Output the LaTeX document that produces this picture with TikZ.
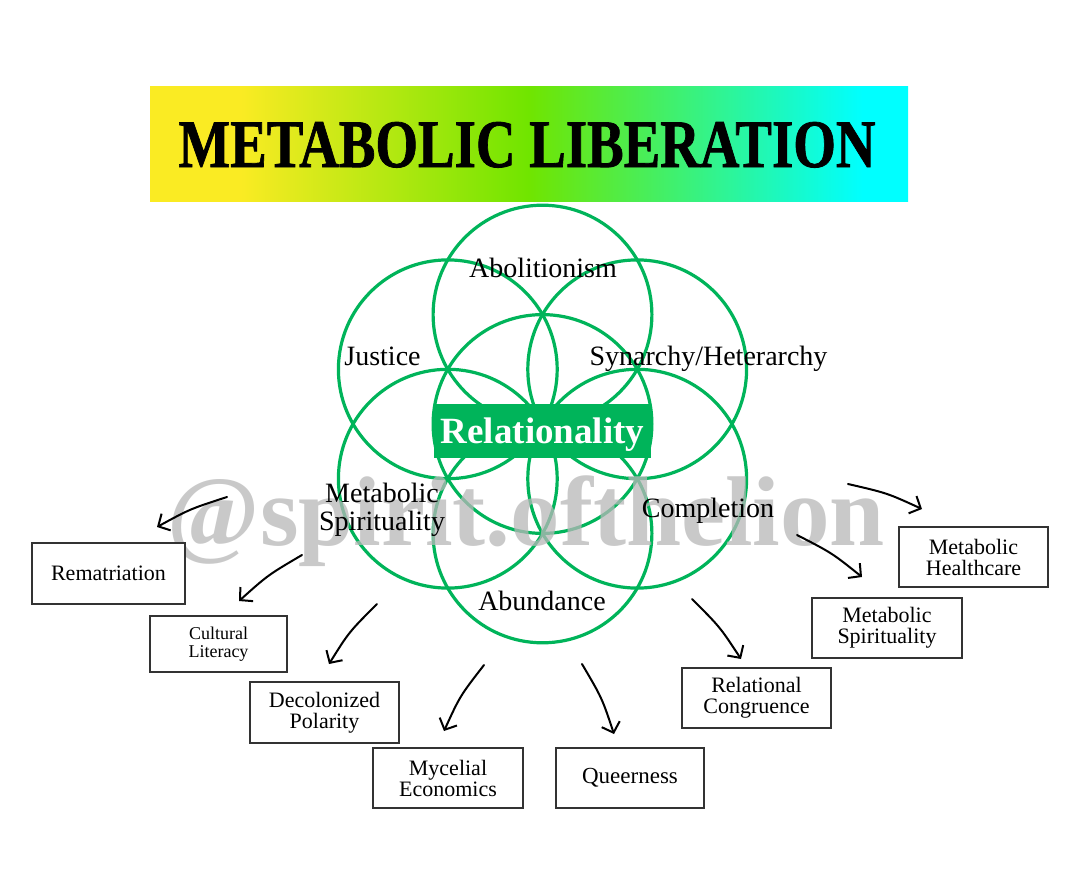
\documentclass[tikz,border=0pt]{standalone}
\usepackage{fontspec}
\setmainfont{Liberation Serif}
\newfontfamily\titlefont[FakeBold=1.2]{Liberation Serif}
\usetikzlibrary{arrows.meta}
\definecolor{petal}{RGB}{0,180,90}
\definecolor{ylw}{RGB}{250,235,35}
\definecolor{lgrn}{RGB}{112,229,0}
\definecolor{cyn}{RGB}{0,255,255}
\definecolor{wmgray}{RGB}{184,184,184}
\pgfdeclarehorizontalshading{titlegrad}{100bp}{color(0bp)=(ylw); color(25bp)=(ylw); color(31bp)=(ylw); color(50bp)=(lgrn); color(72bp)=(cyn); color(75bp)=(cyn); color(100bp)=(cyn)}
\begin{document}
\begin{tikzpicture}[x=1pt,y=-1pt,
  petalc/.style={draw=petal, line width=3.2pt},
  lbl/.style={font=\fontsize{28}{28}\selectfont, text=black, inner sep=0pt},
  boxn/.style={draw=black!80, line width=1.3pt, fill=white, align=center, inner sep=0pt,
    minimum width=149pt, minimum height=60pt, font=\fontsize{22}{21}\selectfont},
  arr/.style={line width=2pt, line cap=round, -{Straight Barb[length=9pt,width=19pt,line width=2pt]}},
]
\useasboundingbox (0,0) rectangle (1080,889);
\fill[white] (0,0) rectangle (1080,889);

% title bar
\shade[shading=titlegrad] (150,86) rectangle (908,201);
\node[anchor=base, inner sep=0pt] (title) at (527,167)
  {\resizebox{697pt}{45pt}{\titlefont\bfseries METABOLIC LIBERATION}};

% seed of life circles
\foreach \cx/\cy in {542.5/424, 542.5/314.6, 447.8/369.3, 637.2/369.3, 447.8/478.7, 637.2/478.7, 542.5/533.4}
  \draw[petalc] (\cx,\cy) circle[radius=109.4pt];

% watermark
\node[anchor=base, inner sep=0pt, text=wmgray, opacity=0.75] (wm) at (526.5,545)
  {\resizebox{717pt}{!}{\fontsize{100}{100}\selectfont\bfseries @spirit.ofthelion}};

% central box
\node[fill=petal, minimum width=217pt, minimum height=54pt, inner sep=0pt,
  text height=30pt, text depth=6pt, text=white,
  font=\fontsize{37}{37}\selectfont\bfseries] (rel) at (542.5,431) {Relationality};

% petal labels
\node[lbl, anchor=base] (abol) at (543,277) {Abolitionism};
\node[lbl, anchor=base] (just) at (382.5,365) {Justice};
\node[lbl, anchor=base] (syn) at (708.5,365) {Synarchy/Heterarchy};
\node[lbl, align=center, font=\fontsize{28}{28}\selectfont] (mspi) at (382,509.5) {Metabolic\\Spirituality};
\node[lbl, anchor=base] (comp) at (708,517) {Completion};
\node[lbl, anchor=base] (abun) at (542,610) {Abundance};

% boxes
\node[boxn, minimum width=153pt, minimum height=61pt] (remat) at (108.5,573.5) {Rematriation};
\node[boxn, minimum width=137pt, minimum height=56pt, font=\fontsize{18}{18}\selectfont] (cult) at (218.5,644) {Cultural\\Literacy};
\node[boxn, minimum height=61pt] (decol) at (324.5,712.5) {Decolonized\\Polarity};
\node[boxn, minimum width=150pt] (myc) at (448,778) {Mycelial\\Economics};
\node[boxn, minimum width=148pt, font=\fontsize{23}{23}\selectfont] (queer) at (630,778) {Queerness};
\node[boxn] (relc) at (756.5,698) {Relational\\Congruence};
\node[boxn, minimum width=150pt] (mspb) at (887,628) {Metabolic\\Spirituality};
\node[boxn] (mhc) at (973.5,557) {Metabolic\\Healthcare};

% arrows
\coordinate (s1) at (227,497); \coordinate (e1) at (157,527);
\coordinate (s2) at (302,555); \coordinate (e2) at (239,601);
\coordinate (s3) at (377,604); \coordinate (e3) at (329,664);
\coordinate (s4) at (484,665); \coordinate (e4) at (444,731);
\coordinate (s5) at (582,664); \coordinate (e5) at (614,734);
\coordinate (s6) at (692,599); \coordinate (e6) at (741,659);
\coordinate (s7) at (797,535); \coordinate (e7) at (862,577);
\coordinate (s8) at (848,484); \coordinate (e8) at (922,509);
\draw[arr] (s1) .. controls (190,509) .. (e1);
\draw[arr] (s2) .. controls (268,575) .. (e2);
\draw[arr] (s3) .. controls (349,632) .. (e3);
\draw[arr] (s4) .. controls (460,696) .. (e4);
\draw[arr] (s5) .. controls (602,698) .. (e5);
\draw[arr] (s6) .. controls (720,627) .. (e6);
\draw[arr] (s7) .. controls (832,553) .. (e7);
\draw[arr] (s8) .. controls (887,493) .. (e8);
\end{tikzpicture}
\end{document}
